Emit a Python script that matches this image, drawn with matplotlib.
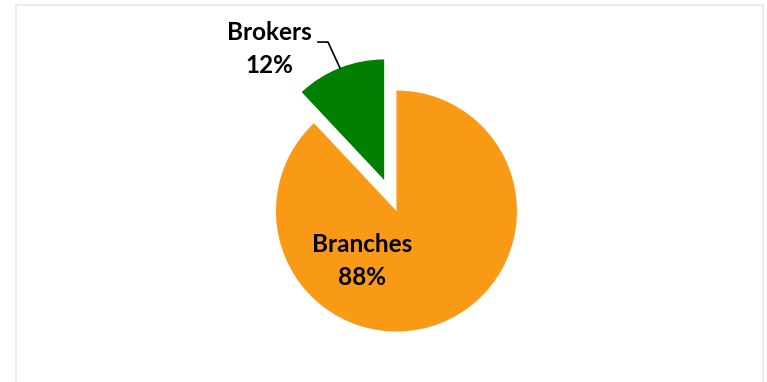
import matplotlib.pyplot as plt
import matplotlib.patches as patches

# share of transactions by channel
channels = ['Branches', 'Brokers']
shares = [88, 12]
colors = ['#F99A17', '#007F00']

plt.rcParams['font.family'] = ['Lato', 'DejaVu Sans']

fig = plt.figure(figsize=(7.67, 3.82), dpi=100)
ax = fig.add_axes([0, 0, 1, 1])

ax.pie(shares, colors=colors, startangle=90, counterclock=False,
       explode=[0, 0.277], radius=1.0, center=(0, 0),
       wedgeprops=dict(linewidth=0))

ax.set_xlim(-3.290, 3.075)
ax.set_ylim(-1.419, 1.751)
ax.set_aspect('equal')
ax.axis('off')

# data labels
ax.text(-0.286, -0.415, f'{channels[0]}\n{shares[0]}%', ha='center', va='center',
        fontsize=17.5, fontweight='bold', linespacing=1.55)
ax.text(-1.058, 1.344, f'{channels[1]}\n{shares[1]}%', ha='center', va='center',
        fontsize=17.5, fontweight='bold', linespacing=1.55)

# leader line for the small slice
ax.plot([-0.651, -0.568, -0.469], [1.402, 1.402, 1.187], color='black', lw=1.2)

# light chart-area frame
frame = patches.Rectangle((16 / 767, -0.05), (763 - 16) / 767, 1.05 - 5 / 382,
                          transform=fig.transFigure, fill=False,
                          edgecolor='#EBEBEB', linewidth=1.5)
fig.patches.append(frame)

fig.savefig('out.png', dpi=100, facecolor='white')
